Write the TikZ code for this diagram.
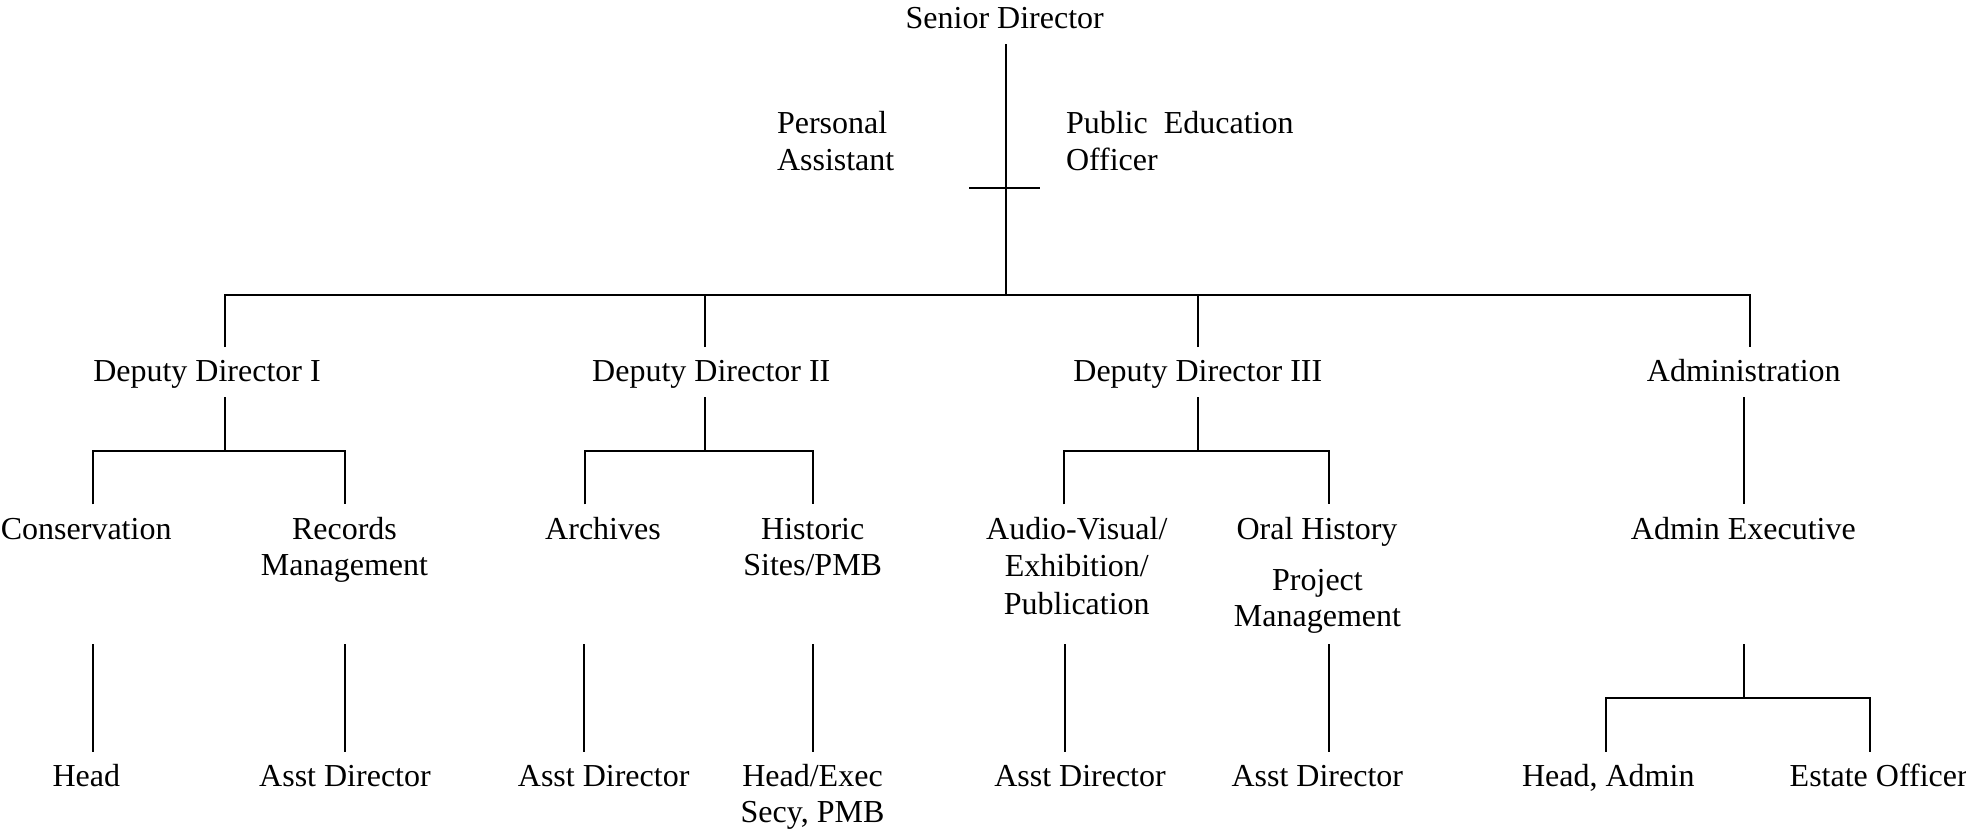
\documentclass[tikz,border=0pt]{standalone}
\usepackage{fontspec}
\setmainfont{Liberation Serif}
\newcommand{\mlc}[2][1]{{\def\arraystretch{#1}\begin{tabular}[t]{@{}c@{}}#2\end{tabular}}}
\newcommand{\mll}[2][1]{{\def\arraystretch{#1}\begin{tabular}[t]{@{}l@{}}#2\end{tabular}}}
\begin{document}
\begin{tikzpicture}[x=0.5pt,y=-0.5pt,
  every node/.style={inner sep=0pt, outer sep=0pt, font=\fontsize{16}{18}\selectfont},
  lbl/.style={anchor=base},
  lbll/.style={anchor=base west},
  conn/.style={line width=1pt, black, line join=miter}]
\useasboundingbox (0,0) rectangle (1966,830);

% ---- text nodes ----
\node[lbl]  (sd)   at (1004.7,28.3) {Senior Director};
\node[lbll] (pa)   at (777,133.3)   {\mll[1.04]{Personal\\Assistant}};
\node[lbll] (peo)  at (1066,133.3)  {\mll[1.04]{Public\ \ Education\\Officer}};

\node[lbl] (dd1)  at (207,381.7)    {Deputy Director I};
\node[lbl] (dd2)  at (711.3,381.7)  {Deputy Director II};
\node[lbl] (dd3)  at (1197.8,381.7) {Deputy Director III};
\node[lbl] (adm)  at (1743.8,381.7) {Administration};

\node[lbl] (cons) at (86.2,539.3)   {Conservation};
\node[lbl] (rec)  at (344.5,539.3)  {\mlc{Records\\Management}};
\node[lbl] (arch) at (603,539.3)    {Archives};
\node[lbl] (hist) at (812.7,539.3)  {\mlc{Historic\\Sites/PMB}};
\node[lbl] (av)   at (1076.8,539.3) {\mlc[1.04]{Audio-Visual/\\Exhibition/\\Publication}};
\node[lbl] (oral) at (1317,539.3)   {Oral History};
\node[lbl] (proj) at (1317.5,590)   {\mlc[1.02]{Project\\Management}};
\node[lbl] (adex) at (1743.3,539.3) {Admin Executive};

\node[lbl] (head) at (86.3,786)     {Head};
\node[lbl] (ad1)  at (345,786)      {Asst Director};
\node[lbl] (ad2)  at (603.7,786)    {Asst Director};
\node[lbl] (hex)  at (812.5,786)    {\mlc{Head/Exec\\Secy, PMB}};
\node[lbl] (ad3)  at (1080,786)     {Asst Director};
\node[lbl] (ad4)  at (1317.3,786)   {Asst Director};
\node[lbl] (hadm) at (1608.3,786)   {Head, Admin};
\node[lbl] (est)  at (1878.7,786)   {Estate Officer};

% ---- connector coordinates ----
\coordinate (sdB)   at (1005.8,44);
\coordinate (hub)   at (1005.8,294.5);
\coordinate (tickL) at (969,187.7);
\coordinate (tickR) at (1040,187.7);

\coordinate (dd1T) at (225,347);
\coordinate (dd2T) at (705,347);
\coordinate (dd3T) at (1198.3,347);
\coordinate (admT) at (1750,347);

\coordinate (dd1B) at (225,397.3);
\coordinate (dd2B) at (705,397.3);
\coordinate (dd3B) at (1198.3,397.3);
\coordinate (admB) at (1744,397.3);
\coordinate (dd1J) at (225,450.7);
\coordinate (dd2J) at (705,450.7);
\coordinate (dd3J) at (1198.3,450.7);

\coordinate (consT) at (92.7,504.3);
\coordinate (recT)  at (344.7,504.3);
\coordinate (archT) at (585,504.3);
\coordinate (histT) at (812.7,504.3);
\coordinate (avT)   at (1064.3,504.3);
\coordinate (oralT) at (1329.3,504.3);
\coordinate (adexT) at (1744,504.3);

\coordinate (consB) at (92.7,644);
\coordinate (recB)  at (344.7,644);
\coordinate (archB) at (584.3,644);
\coordinate (histB) at (812.7,644);
\coordinate (avB)   at (1065,644);
\coordinate (projB) at (1329.3,644);
\coordinate (adexB) at (1744,644);
\coordinate (adexJ) at (1744,698.3);

\coordinate (headT) at (92.7,751.7);
\coordinate (ad1T)  at (344.7,751.7);
\coordinate (ad2T)  at (584.3,751.7);
\coordinate (hexT)  at (812.7,751.7);
\coordinate (ad3T)  at (1065,751.7);
\coordinate (ad4T)  at (1329.3,751.7);
\coordinate (hadmT) at (1606,751.7);
\coordinate (estT)  at (1870,751.7);

% ---- connectors ----
\draw[conn] (sdB) -- (hub);
\draw[conn] (tickL) -- (tickR);
\draw[conn] (dd1T) |- (hub) -| (admT);
\draw[conn] (dd2T) -- (dd2T |- hub);
\draw[conn] (dd3T) -- (dd3T |- hub);

\draw[conn] (dd1B) -- (dd1J);
\draw[conn] (consT) |- (dd1J) -| (recT);
\draw[conn] (dd2B) -- (dd2J);
\draw[conn] (archT) |- (dd2J) -| (histT);
\draw[conn] (dd3B) -- (dd3J);
\draw[conn] (avT) |- (dd3J) -| (oralT);
\draw[conn] (admB) -- (adexT);

\draw[conn] (consB) -- (headT);
\draw[conn] (recB) -- (ad1T);
\draw[conn] (archB) -- (ad2T);
\draw[conn] (histB) -- (hexT);
\draw[conn] (avB) -- (ad3T);
\draw[conn] (projB) -- (ad4T);
\draw[conn] (adexB) -- (adexJ);
\draw[conn] (hadmT) |- (adexJ) -| (estT);
\end{tikzpicture}
\end{document}
